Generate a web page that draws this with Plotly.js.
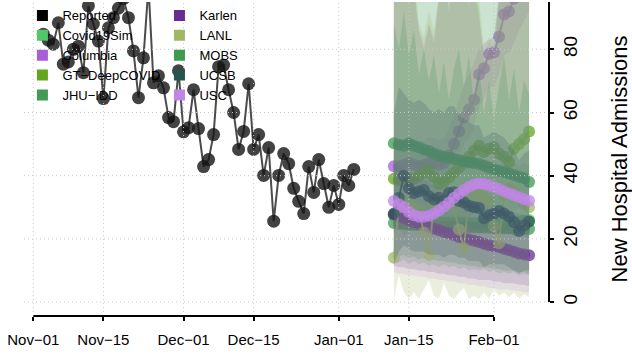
<!DOCTYPE html>
<html><head><meta charset="utf-8">
<script src="https://cdn.plot.ly/plotly-3.0.1.min.js"></script>
<style>html,body{margin:0;padding:0;background:#fff}#chart{width:632px;height:360px}</style>
</head><body><div id="chart"></div><script>
// ---------- data ----------
const reportedDates = ['2020-11-03','2020-11-04','2020-11-05','2020-11-06','2020-11-07','2020-11-08','2020-11-09','2020-11-10','2020-11-11','2020-11-12','2020-11-13','2020-11-14','2020-11-15','2020-11-16','2020-11-17','2020-11-18','2020-11-19','2020-11-20','2020-11-21','2020-11-22','2020-11-23','2020-11-24','2020-11-25','2020-11-26','2020-11-27','2020-11-28','2020-11-29','2020-11-30','2020-12-01','2020-12-02','2020-12-03','2020-12-04','2020-12-05','2020-12-06','2020-12-07','2020-12-08','2020-12-09','2020-12-10','2020-12-11','2020-12-12','2020-12-13','2020-12-14','2020-12-15','2020-12-16','2020-12-17','2020-12-18','2020-12-19','2020-12-20','2020-12-21','2020-12-22','2020-12-23','2020-12-24','2020-12-25','2020-12-26','2020-12-27','2020-12-28','2020-12-29','2020-12-30','2020-12-31','2021-01-01','2021-01-02','2021-01-03','2021-01-04'];
const reportedValues = [84.8,82.9,81.6,88.4,75.3,76,80,81,72.6,93.7,88,82.6,64.4,86.8,90,93,96,90,79.5,64.7,77.3,100,69.4,71.6,67.8,58.4,57.1,73.2,53.9,55.2,67.2,54.9,42.9,45.1,53,74.5,75,67.2,60,48.3,54,69.1,48.3,53,40.1,48.9,25.6,40.1,47,43.8,36,31.9,28,42.9,34.7,45.1,37.5,30,36.9,30.9,40.1,36.9,42];

const forecastDates = ['2021-01-12','2021-01-13','2021-01-14','2021-01-15','2021-01-16','2021-01-17','2021-01-18','2021-01-19','2021-01-20','2021-01-21','2021-01-22','2021-01-23','2021-01-24','2021-01-25','2021-01-26','2021-01-27','2021-01-28','2021-01-29','2021-01-30','2021-01-31','2021-02-01','2021-02-02','2021-02-03','2021-02-04','2021-02-05','2021-02-06','2021-02-07','2021-02-08'];

const covid19simMean  = [27.5,27,26.5,26,25.8,25.6,25.5,25.4,25.3,25.3,25.2,25.2,25.2,25.1,25.1,25.1,25,25,25,25,25.1,25.2,25.3,25.4,25.5,25.6,25.8,26];
const covid19simLower = [13,12.5,13.5,12,13,12,12.5,11.5,12,11,12,11,11.5,10.5,11,10,10.5,10,10.5,9.5,10,9,9.5,9,9.5,8.5,9,8.5];
const covid19simUpper = [50,49,50,48,49,47,48,47,48,46,47,46,47,45,46,45,46,44,45,44,45,44,45,43,44,43,44,43];

const columbiaMean  = [43,43,43.5,44,43.5,43,43.5,44,44,43.5,44,46.5,50,54,58.5,61,64,72,74,78.5,79,84,91,92,96,100,104,108];
const columbiaLower = [37,37,37,38,37,37,37,38,38,37,37,40,43,46,50,52,55,62,64,68,68,72,78,79,82,86,89,92];
const columbiaUpper = [50,50,51,52,51,50,51,52,52,51,52,55,59,64,69,72,76,80,82,83,84,96,106,108,113,118,123,128];

const gtMean  = [39,38.5,38,38.5,39,40,41,42,39.5,37.5,38,39.5,41,42.5,44,46,48,49.5,47.5,48.5,49,47,46,44.3,48.5,50,51.5,54];
const gtLower = [22,23,21,22,23,22,24,23,22,21,22,23,24,25,26,27,28,29,28,29,30,29,28,27,29,30,31,33];
const gtUpper = [104,98,110,96,100,86,80,88,82,96,104,92,110,98,102,94,100,92,76,80,78,96,104,98,110,102,96,112];

const jhuMean  = [25,24.8,24.6,24.5,24.4,24.3,24.2,24.1,24,24,23.9,23.9,23.8,23.8,23.7,23.7,23.6,23.6,23.5,23.5,23.4,23.4,23.3,23.3,23.2,23.2,23.1,23.1];
const jhuLower = [15,14.5,15,14,14.5,13.5,14,13,13.5,13,13,12.5,12.5,12,12,11.5,11.5,11,11,11,10.5,10.5,10,10,10,9.5,9.5,9];
const jhuUpper = [150,148,152,146,150,148,151,147,150,149,152,148,150,147,151,149,150,148,152,147,150,149,151,148,150,147,152,150];

const karlenMean  = [27.8,27.2,26.6,26,25.3,24.8,24.3,23.8,23.2,22.7,22.2,21.8,21.2,20.6,20.2,19.8,19.4,19,18.5,18,17.7,17.4,16.9,16.4,15.9,15.4,15.1,14.8];
const karlenLower = [11.5,11,11,10.5,10.5,10,10,9.5,9.5,9,9,8.5,8.5,8,8,7.5,7.5,7,7,7,6.5,6.5,6,6,6,5.5,5.5,5];
const karlenUpper = [44,43,42,41,40,39,38.5,38,37,36.5,36,35,34.5,34,33.5,33,32.5,32,31.5,31,30.5,30,29.5,29,28.5,28,27.5,27];

const lanlMean  = [14,30,32,31,30,29,22,15,31,33,32,31,30,23,17,33,35,34,33,32,24,18.6,34,36,35,33,31,30];
const lanlLower = [0.5,8.5,3,1,3,1,4,7,2,1,6,2,1,3,4.5,1,2,1,3,1,4,2,3,1.5,3,1,2.5,1.5];
const lanlUpper = [112,104,118,100,106,88,84,92,86,100,110,96,116,102,108,98,104,96,80,84,82,100,110,102,116,106,100,118];

const mobsMean  = [50.3,49.8,49.5,50.2,49.5,49,48.3,47.8,47,46.4,46,45.7,45.3,45,44.6,44.2,44,43.8,43.2,42.6,42,41.6,41.2,40.7,40.2,39.7,39.2,38];
const mobsLower = [30,29,30,28,29,28,28,27,27,26,26,26,25,25,25,24,24,24,23,23,23,22,22,22,21,21,21,20];
const mobsUpper = [88,80,92,78,86,72,80,70,78,66,76,64,74,80,68,78,62,74,60,70,58,68,78,64,74,60,70,66];

const ucsbMean  = [28,33,40,36,34.5,35,35.5,33.5,32.5,33,32,34.5,34.8,32,31.5,30.5,30,29.8,26.5,27.5,28,28.8,28,27,25.3,22.5,24.3,25.5];
const ucsbLower = [12,16,18,17,16,16,16,15,15,15,14,15,15,14,14,13,13,13,11,12,12,12,12,11,10,9,10,10];
const ucsbUpper = [60,68,66,64,63,64,63,61,60,61,60,62,62,59,58,57,56,56,52,53,54,53,52,50,48,45,47,48];

const uscMean  = [32,31,30,28.5,27.5,27,27,27.3,28,29,30.2,31.5,33,34.3,35.5,36.5,37.2,37.5,37.4,37,36.4,35.8,35.1,34.4,33.8,33.2,32.6,32.1];
const uscLower = [9.5,9,9,8.5,8.5,8,8,7.5,7.5,7,7,6.5,6.5,6,6,5.5,5.5,5,5,4.5,4.5,4,4,4,3.5,3.5,3,3];
const uscUpper = [100,96,102,94,98,86,82,88,84,96,102,94,104,98,102,96,100,90,78,82,80,98,104,100,108,102,98,106];

const modelNames  = ['Covid19Sim','Columbia','GT\u2212DeepCOVID','JHU\u2212IDD','Karlen','LANL','MOBS','UCSB','USC'];
const modelColors = ['#55c667','#a65fd4','#64a41f','#449a55','#6a2c91','#a0b866','#3d9a4f','#285450','#c085e5'];
const bandAlpha   = [0.28, 0.2, 0.22, 0.28, 0.2, 0.22, 0.28, 0.24, 0.17];
const modelMeans  = [covid19simMean,columbiaMean,gtMean,jhuMean,karlenMean,lanlMean,mobsMean,ucsbMean,uscMean];
const modelLowers = [covid19simLower,columbiaLower,gtLower,jhuLower,karlenLower,lanlLower,mobsLower,ucsbLower,uscLower];
const modelUppers = [covid19simUpper,columbiaUpper,gtUpper,jhuUpper,karlenUpper,lanlUpper,mobsUpper,ucsbUpper,uscUpper];

const tickDates  = ['2020-11-01','2020-11-15','2020-12-01','2020-12-15','2021-01-01','2021-01-15','2021-02-01'];
const tickLabels = ['Nov\u221201','Nov\u221215','Dec\u221201','Dec\u221215','Jan\u221201','Jan\u221215','Feb\u221201'];
const yTicks = [0,20,40,60,80];

// ---------- helpers ----------
function rgba(hex, a){
  const n = parseInt(hex.slice(1),16);
  return 'rgba('+((n>>16)&255)+','+((n>>8)&255)+','+(n&255)+','+a+')';
}
const FONT = 'Liberation Sans, Arial, Helvetica, sans-serif';
const traces = [];

// each model: band, then its mean line (later models veil earlier lines)
modelNames.forEach(function(nm, k){
  const xs = forecastDates.concat(forecastDates.slice().reverse());
  const ys = modelUppers[k].concat(modelLowers[k].slice().reverse());
  traces.push({type:'scatter', mode:'lines', x:xs, y:ys, fill:'toself',
    fillcolor: rgba(modelColors[k], bandAlpha[k]),
    line:{width:0}, showlegend:false, hoverinfo:'skip'});
  traces.push({type:'scatter', mode:'lines+markers', x:forecastDates, y:modelMeans[k],
    line:{color:rgba(modelColors[k],0.8), width:2},
    marker:{color:rgba(modelColors[k],0.75), size:12},
    showlegend:false, hoverinfo:'skip'});
});

// reported
traces.push({type:'scatter', mode:'lines+markers', x:reportedDates, y:reportedValues,
  line:{color:'rgba(30,30,30,0.8)', width:2},
  marker:{color:'rgba(20,20,20,0.8)', size:13},
  showlegend:false, hoverinfo:'skip'});

// legend entries (two columns)
const legendNames  = ['Reported'].concat(modelNames);
const legendColors = ['#000000'].concat(modelColors);
legendNames.forEach(function(nm, i){
  traces.push({type:'scatter', mode:'markers', x:[null], y:[null], name:nm,
    marker:{symbol:'square', size:11, color:legendColors[i]},
    legend: i < 5 ? 'legend' : 'legend2', hoverinfo:'skip'});
});

// grid + axis lines as shapes
const shapes = [];
const gridStyle = {color:'#c8c8c8', width:1, dash:'1px,3px'};
yTicks.forEach(function(v){
  shapes.push({type:'line', xref:'paper', yref:'y', x0:0, x1:1, y0:v, y1:v, line:gridStyle, layer:'above'});
});
tickDates.forEach(function(d){
  shapes.push({type:'line', xref:'x', yref:'y', x0:d, x1:d, y0:-3.15, y1:100, line:gridStyle, layer:'above'});
});
shapes.push({type:'line', xref:'x', yref:'paper', x0:tickDates[0], x1:tickDates[tickDates.length-1], y0:0, y1:0, line:{color:'#000', width:2}});
shapes.push({type:'line', xref:'paper', yref:'y', x0:1, x1:1, y0:0, y1:100, line:{color:'#000', width:2}});

const legendCommon = {bgcolor:'rgba(0,0,0,0)', font:{family:FONT, size:13, color:'#000'},
  itemsizing:'trace', traceorder:'normal', yanchor:'top', xanchor:'left', y:1.005};

const layout = {
  width:632, height:360,
  margin:{l:24, r:83, t:0, b:44},
  paper_bgcolor:'#fff', plot_bgcolor:'#fff',
  font:{family:FONT, color:'#000'},
  showlegend:true,
  xaxis:{type:'date', range:['2020-10-30 03:25','2021-02-11 23:30'],
    tickmode:'array', tickvals:tickDates, ticktext:tickLabels,
    ticks:'outside', ticklen:4, tickwidth:2, tickcolor:'#000',
    showgrid:false, zeroline:false, showline:false, ticklabelstandoff:6,
    tickfont:{family:FONT, size:15, color:'#000'}},
  yaxis:{range:[-4.4,94.97], side:'right', tickmode:'array', tickvals:yTicks,
    ticks:'outside', ticklen:4, tickwidth:2, tickcolor:'#000',
    showgrid:false, zeroline:false, showline:false, tickangle:-90,
    tickfont:{family:FONT, size:19, color:'#000'},
    title:{text:'New Hospital Admissions', font:{family:FONT, size:22, color:'#000'}, standoff:31}},
  legend: Object.assign({x:-0.003}, legendCommon),
  legend2: Object.assign({x:0.258}, legendCommon),
  shapes:shapes
};

Plotly.newPlot('chart', traces, layout, {staticPlot:true, displayModeBar:false});
</script></body></html>
